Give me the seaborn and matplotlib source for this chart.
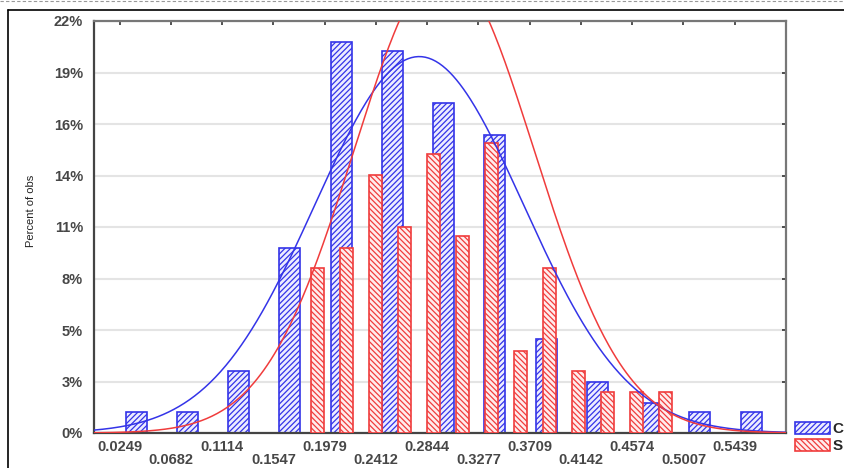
import numpy as np
import pandas as pd
import seaborn as sns
import matplotlib.pyplot as plt
from matplotlib.lines import Line2D
from matplotlib.patches import Patch

# x axis labels (bins of the C histogram)
x_ticks = [0.0249, 0.0682, 0.1114, 0.1547, 0.1979, 0.2412, 0.2844,
           0.3277, 0.3709, 0.4142, 0.4574, 0.5007, 0.5439]
c_pct = [1.1, 1.1, 3.3, 9.9, 20.9, 20.4, 17.6, 15.9, 5.0, 2.7, 1.6, 1.1, 1.1]

# S histogram uses its own (narrower) bins
s_x = [0.1920, 0.2164, 0.2409, 0.2653, 0.2897, 0.3142, 0.3386,
       0.3631, 0.3875, 0.4119, 0.4364, 0.4608, 0.4853]
s_pct = [8.8, 9.9, 13.8, 11.0, 14.9, 10.5, 15.5, 4.4, 8.8, 3.3, 2.2, 2.2, 2.2]

# fitted normal curves: mean, sd, peak height (% of obs)
c_fit = (0.2777, 0.088, 20.1)
s_fit = (0.2987, 0.076, 24.9)

y_ticks = [0, 2.75, 5.5, 8.25, 11, 13.75, 16.5, 19.25, 22]
y_labels = ['0%', '3%', '5%', '8%', '11%', '14%', '16%', '19%', '22%']
legend_labels = ['C', 'S']

blue = '#3434e8'
red = '#f03c3c'
blue_face = '#ececff'
red_face = '#ffecec'
xlim = (0.0033, 0.5872)

sns.set_style('white')
plt.rcParams['font.family'] = ['Liberation Sans', 'DejaVu Sans']
plt.rcParams['hatch.linewidth'] = 0.9

fig = plt.figure(figsize=(8.44, 4.68), dpi=100)
ax = fig.add_axes([94 / 844, 35 / 468, 692 / 844, 412 / 468])

# bars: C first, S drawn over it
c_df = pd.DataFrame({'x': np.array(x_ticks) + 0.0139, 'pct': c_pct})
sns.barplot(data=c_df, x='x', y='pct', native_scale=True, width=0.41,
            color=blue, errorbar=None, ax=ax, zorder=2)
for b in ax.containers[-1]:
    b.set_facecolor(blue_face)
    b.set_edgecolor(blue)
    b.set_hatch('//////')
    b.set_linewidth(1.2)

s_df = pd.DataFrame({'x': s_x, 'pct': s_pct})
sns.barplot(data=s_df, x='x', y='pct', native_scale=True, width=0.45,
            color=red, errorbar=None, ax=ax, zorder=3)
for b in ax.containers[-1]:
    b.set_facecolor(red_face)
    b.set_edgecolor(red)
    b.set_hatch('\\\\\\\\\\\\')
    b.set_linewidth(1.2)

# normal fits
xs = np.linspace(xlim[0], xlim[1], 400)
for (mu, sd, peak), col in [(c_fit, blue), (s_fit, red)]:
    ys = peak * np.exp(-(xs - mu) ** 2 / (2 * sd ** 2))
    sns.lineplot(x=xs, y=ys, color=col, lw=1.1, ax=ax, zorder=4)

ax.set_xlim(*xlim)
ax.set_ylim(0, 22)
ax.set_xticks(x_ticks)
ax.set_xticklabels([f'{v:.4f}' if i % 2 == 0 else f'\n{v:.4f}'
                    for i, v in enumerate(x_ticks)], linespacing=0.92)
ax.set_yticks(y_ticks)
ax.set_yticklabels(y_labels)
for lab in ax.get_xticklabels() + ax.get_yticklabels():
    lab.set_fontweight('bold')
    lab.set_fontsize(10.5)
    lab.set_color('#474747')

ax.tick_params(axis='both', direction='in', length=3, width=1.2,
               top=True, right=True, color='#333')
ax.tick_params(axis='x', pad=5)
ax.tick_params(axis='y', pad=8)

ax.set_xlabel('')
ax.set_ylabel('Percent of obs', fontsize=8, color='#222')
ax.yaxis.set_label_coords(-0.084, 0.54)

ax.yaxis.grid(True, color='#e4e4e4', lw=1.5)
ax.set_axisbelow(True)
for side in ['left', 'bottom']:
    ax.spines[side].set_color('#444')
    ax.spines[side].set_linewidth(1.6)
for side in ['top', 'right']:
    ax.spines[side].set_color('#777')
    ax.spines[side].set_linewidth(1.6)

# outer frame and dashed page border
fig.add_artist(Line2D([8 / 844, 8 / 844], [0, 1 - 10 / 468],
                      transform=fig.transFigure, color='black', lw=1.2))
fig.add_artist(Line2D([8 / 844, 1], [1 - 10 / 468, 1 - 10 / 468],
                      transform=fig.transFigure, color='black', lw=1.2))
fig.add_artist(Line2D([0, 1], [1 - 1 / 468, 1 - 1 / 468],
                      transform=fig.transFigure, color='#999', lw=0.8,
                      ls=(0, (3, 2))))

handles = [Patch(facecolor=blue_face, edgecolor=blue, hatch='//////', lw=1.2),
           Patch(facecolor=red_face, edgecolor=red, hatch='\\\\\\\\\\\\', lw=1.2)]
fig.legend(handles, legend_labels, loc='upper left',
           bbox_to_anchor=(795 / 844, 1 - 422 / 468), frameon=False,
           prop={'weight': 'bold', 'size': 11}, handlelength=2.3,
           handleheight=0.85, handletextpad=0.15, labelspacing=0.15,
           borderpad=0, borderaxespad=0)

fig.savefig('out.png', dpi=100)
